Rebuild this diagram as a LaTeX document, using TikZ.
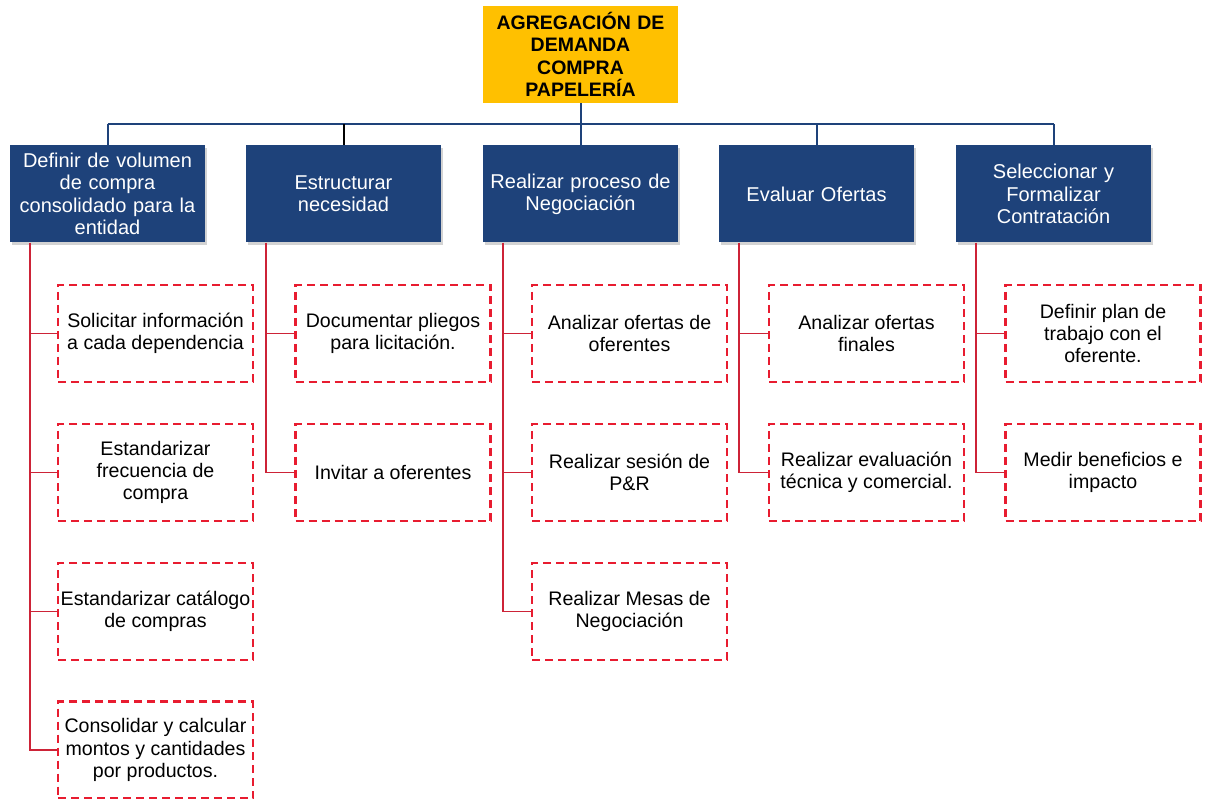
\documentclass[tikz,border=0pt]{standalone}
\usepackage{fontspec}
\setmainfont{Liberation Sans}
\usetikzlibrary{shadows,calc}
\definecolor{topyellow}{RGB}{255,192,0}
\definecolor{boxblue}{RGB}{30,66,122}
\definecolor{dashred}{RGB}{232,28,48}
\definecolor{linered}{RGB}{205,35,55}
\tikzset{
  topbox/.style={fill=topyellow, minimum width=195pt, minimum height=97pt, text width=190pt, align=center, inner sep=0pt, font=\fontsize{19.5}{22.3}\selectfont\bfseries},
  bluebox/.style={fill=boxblue, text=white, minimum width=195pt, minimum height=97pt, text width=192pt, align=center, inner sep=0pt, font=\fontsize{20}{22.3}\selectfont, drop shadow={shadow xshift=2pt, shadow yshift=-2.5pt, opacity=0.35}},
  taskbox/.style={draw=dashred, line width=2.5pt, dash pattern=on 8pt off 5pt, fill=white, minimum width=195pt, minimum height=97pt, align=center, inner sep=0pt, font=\fontsize{19.6}{22.3}\selectfont},
  busline/.style={draw=boxblue, line width=2pt},
  blackline/.style={draw=black, line width=2pt},
  redline/.style={draw=linered, line width=1.5pt},
}
\begin{document}
\begin{tikzpicture}[x=1pt,y=-1pt]
\useasboundingbox (0,0) rectangle (1205,799);
% top
\node[topbox] (top) at (580.5,54.5) {AGREGACIÓN DE\\DEMANDA\\COMPRA\\PAPELERÍA};
% blue boxes
\node[bluebox] (b1) at (107.5,194) {Definir de volumen\\de compra\\consolidado para la\\entidad};
\node[bluebox] (b2) at (343.5,194) {Estructurar\\necesidad};
\node[bluebox] (b3) at (580.5,194) {Realizar proceso de\\Negociación};
\node[bluebox] (b4) at (816.5,194) {Evaluar Ofertas};
\node[bluebox] (b5) at (1053.5,194) {Seleccionar y\\Formalizar\\Contratación};
% bus
\coordinate (bus) at (0,124);
\draw[busline] (top.south) -- (top.south |- bus);
\draw[busline] (b1.north |- bus) -- (b5.north |- bus);
\draw[busline] (b1.north |- bus) -- (b1.north);
\draw[blackline] (b2.north |- bus) -- (b2.north);
\draw[busline] (b3.north |- bus) -- (b3.north);
\draw[busline] (b4.north |- bus) -- (b4.north);
\draw[busline] (b5.north |- bus) -- (b5.north);
% task boxes
\node[taskbox] (r11) at (155.5,333.5) {Solicitar información\\a cada dependencia};
\node[taskbox] (r12) at (155.5,472.5) {Estandarizar\\frecuencia de\\compra};
\node[taskbox] (r13) at (155.5,611.5) {Estandarizar catálogo\\de compras};
\node[taskbox] (r14) at (155.5,750) {Consolidar y calcular\\montos y cantidades\\por productos.};
\node[taskbox] (r21) at (393,333.5) {Documentar pliegos\\para licitación.};
\node[taskbox] (r22) at (393,472.5) {Invitar a oferentes};
\node[taskbox] (r31) at (629.5,333.5) {Analizar ofertas de\\oferentes};
\node[taskbox] (r32) at (629.5,472.5) {Realizar sesión de\\P\&R};
\node[taskbox] (r33) at (629.5,611.5) {Realizar Mesas de\\Negociación};
\node[taskbox] (r41) at (866.5,333.5) {Analizar ofertas\\finales};
\node[taskbox] (r42) at (866.5,472.5) {Realizar evaluación\\técnica y comercial.};
\node[taskbox] (r51) at (1103,333.5) {Definir plan de\\trabajo con el\\oferente.};
\node[taskbox] (r52) at (1103,472.5) {Medir beneficios e\\impacto};
% red connectors
\coordinate (s1) at ([xshift=20pt]b1.south west);
\coordinate (s2) at ([xshift=20pt]b2.south west);
\coordinate (s3) at ([xshift=20pt]b3.south west);
\coordinate (s4) at ([xshift=20pt]b4.south west);
\coordinate (s5) at ([xshift=20pt]b5.south west);
\draw[redline] (s1) |- (r14.west);
\draw[redline] (s1 |- r11.west) -- (r11.west);
\draw[redline] (s1 |- r12.west) -- (r12.west);
\draw[redline] (s1 |- r13.west) -- (r13.west);
\draw[redline] (s2) |- (r22.west);
\draw[redline] (s2 |- r21.west) -- (r21.west);
\draw[redline] (s3) |- (r33.west);
\draw[redline] (s3 |- r31.west) -- (r31.west);
\draw[redline] (s3 |- r32.west) -- (r32.west);
\draw[redline] (s4) |- (r42.west);
\draw[redline] (s4 |- r41.west) -- (r41.west);
\draw[redline] (s5) |- (r52.west);
\draw[redline] (s5 |- r51.west) -- (r51.west);
\end{tikzpicture}
\end{document}
